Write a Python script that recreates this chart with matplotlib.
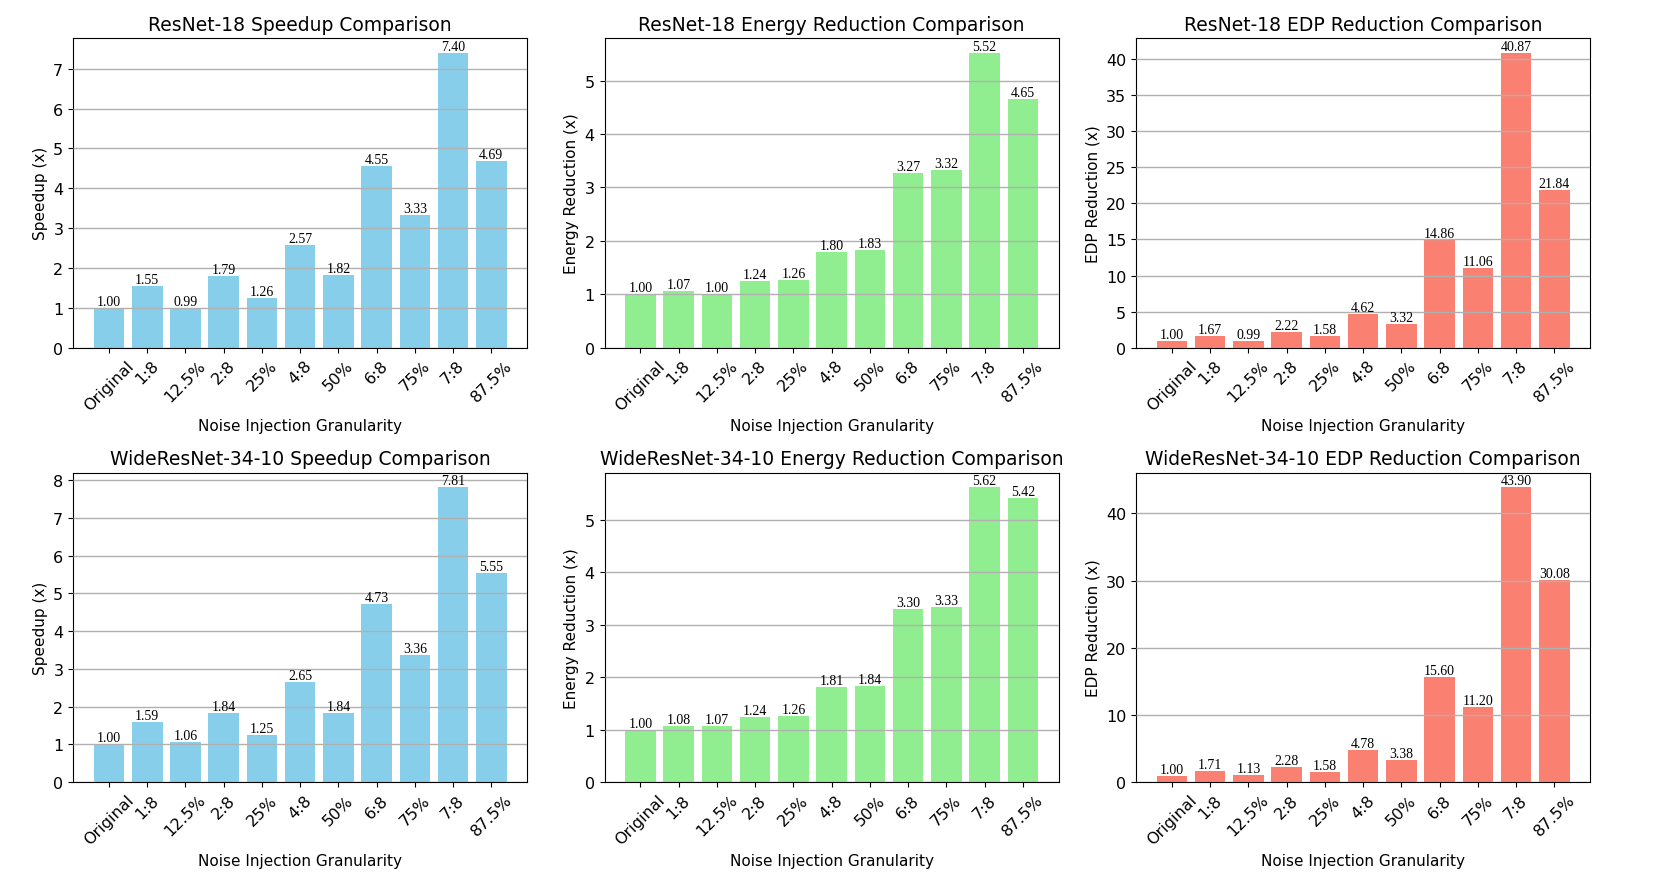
import matplotlib
matplotlib.use("Agg")
import matplotlib.pyplot as plt
import numpy as np

categories = ["Original", "1:8", "12.5%", "2:8", "25%", "4:8", "50%", "6:8", "75%", "7:8", "87.5%"]

r18_speedup = [1.00, 1.55, 0.99, 1.79, 1.26, 2.57, 1.82, 4.55, 3.33, 7.40, 4.69]
r18_energy = [1.00, 1.07, 1.00, 1.24, 1.26, 1.80, 1.83, 3.27, 3.32, 5.52, 4.65]
r18_edp = [1.00, 1.67, 0.99, 2.22, 1.58, 4.62, 3.32, 14.86, 11.06, 40.87, 21.84]

wrn_speedup = [1.00, 1.59, 1.06, 1.84, 1.25, 2.65, 1.84, 4.73, 3.36, 7.81, 5.55]
wrn_energy = [1.00, 1.08, 1.07, 1.24, 1.26, 1.81, 1.84, 3.30, 3.33, 5.62, 5.42]
wrn_edp = [1.00, 1.71, 1.13, 2.28, 1.58, 4.78, 3.38, 15.60, 11.20, 43.90, 30.08]

panels = [
    ("ResNet-18 Speedup Comparison", "Speedup (x)", r18_speedup, "skyblue"),
    ("ResNet-18 Energy Reduction Comparison", "Energy Reduction (x)", r18_energy, "lightgreen"),
    ("ResNet-18 EDP Reduction Comparison", "EDP Reduction (x)", r18_edp, "salmon"),
    ("WideResNet-34-10 Speedup Comparison", "Speedup (x)", wrn_speedup, "skyblue"),
    ("WideResNet-34-10 Energy Reduction Comparison", "Energy Reduction (x)", wrn_energy, "lightgreen"),
    ("WideResNet-34-10 EDP Reduction Comparison", "EDP Reduction (x)", wrn_edp, "salmon"),
]

fig, axes = plt.subplots(2, 3, figsize=(16.6, 8.87), dpi=100)
plt.subplots_adjust(left=0.044, right=0.958, top=0.956, bottom=0.117, wspace=0.17, hspace=0.403)

x = np.arange(len(categories))
for ax, (title, ylabel, vals, color) in zip(axes.flat, panels):
    bars = ax.bar(x, vals, color=color, width=0.8)
    ax.set_title(title, fontsize=13.5)
    ax.set_ylabel(ylabel, fontsize=11)
    ax.set_xlabel("Noise Injection Granularity", fontsize=11)
    ax.set_xticks(x)
    ax.set_xticklabels(categories, rotation=45, fontsize=11.5)
    ax.tick_params(axis="y", labelsize=11.5)
    ax.yaxis.grid(True, color="#b0b0b0", linewidth=1.0)
    ax.set_axisbelow(False)
    for b, v in zip(bars, vals):
        ax.text(b.get_x() + b.get_width() / 2, v, f"{v:.2f}", ha="center", va="bottom",
                fontsize=10, family="Liberation Serif")

fig.savefig("out.png", dpi=100)
